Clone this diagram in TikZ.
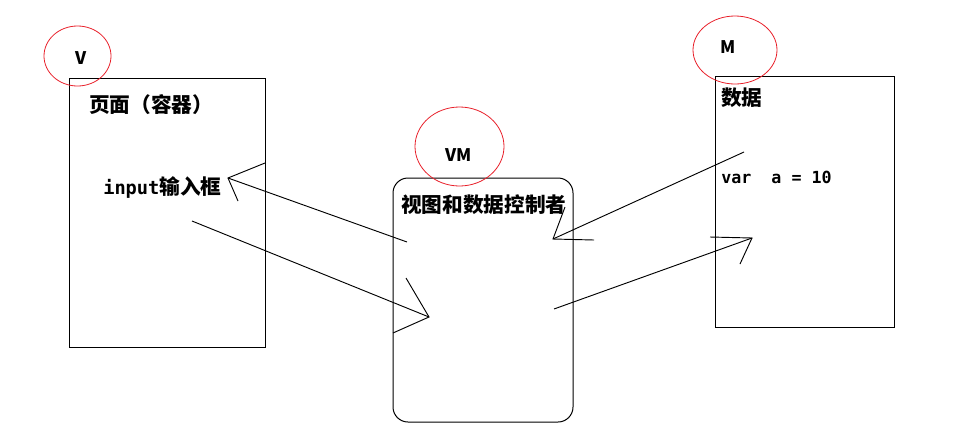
\documentclass[tikz,border=0pt]{standalone}
\usepackage{fontspec}
\setmainfont{Noto Sans CJK SC}
\setmonofont{DejaVu Sans Mono}
\usetikzlibrary{positioning,fit,shapes.geometric}
\definecolor{tagred}{HTML}{E8202A}
\newdimen\px \px=0.75pt

\begin{document}
\begin{tikzpicture}[
  x=0.75pt, y=-0.75pt,
  panel/.style={draw,inner sep=0pt,line width=0.75pt},
  tag/.style={draw=tagred,ellipse,inner sep=0pt,line width=0.6pt},
  cn/.style={font=\bfseries\fontsize{15.5pt}{17pt}\selectfont,inner sep=0pt,anchor=west},
  en/.style={font=\ttfamily\bfseries\fontsize{12.5pt}{14pt}\selectfont,inner sep=0pt,anchor=west},
  tagtext/.style={font=\bfseries\fontsize{13pt}{15pt}\selectfont,inner sep=0pt},
  link/.style={line width=0.7pt},
]
\useasboundingbox (0,0) rectangle (978,447);

% the three parts
\node[panel,fit={(69,78) (265,347)}] (view) {};
\node[panel,rounded corners=15\px,fit={(393,178) (573,422)}] (vm) {};
\node[panel,fit={(715,76) (894,327)}] (model) {};

% red tags
\node[tag,minimum width=67\px,minimum height=60\px] (vtag) at (77.5,56) {};
\node[tag,minimum width=89\px,minimum height=79\px] (vmtag) at (459.5,146.5) {};
\node[tag,minimum width=84\px,minimum height=68\px] (mtag) at (735,50) {};
\node[tagtext] (vname) at (81,58) {V};
\node[tagtext] (vmname) at (458.5,155) {VM};
\node[tagtext] (mname) at (728,47.5) {M};

% texts in the boxes
\node[cn] (page) at (89,105) {页面（容器）};
\node[cn] (input) at (103,188) {{\ttfamily\fontsize{14pt}{16pt}\selectfont input}输入框};
\node[cn] (ctrl) at (401,205) {视图和数据控制者};
\node[cn] (data) at (721,98) {数据};
\node[en] (var) at (721,177) {var\ \ a = 10};

% hand drawn arrows
\coordinate (toview) at (407,242);
\coordinate (toviewtip) at (228,178);
\coordinate (toviewl) at (265,163);
\coordinate (toviewr) at (238,201);
\draw[link] (toview) -- (toviewtip);
\draw[link] (toviewl) -- (toviewtip) -- (toviewr);

\coordinate (fromview) at (192,221);
\coordinate (fromviewtip) at (429,317);
\coordinate (fromviewl) at (406,278);
\coordinate (fromviewr) at (393,333);
\draw[link] (fromview) -- (fromviewtip);
\draw[link] (fromviewl) -- (fromviewtip) -- (fromviewr);

\coordinate (frommodel) at (744,152);
\coordinate (frommodeltip) at (553,239);
\coordinate (frommodell) at (565,207);
\coordinate (frommodelr) at (594,240);
\draw[link] (frommodel) -- (frommodeltip);
\draw[link] (frommodell) -- (frommodeltip) -- (frommodelr);

\coordinate (tomodel) at (554,309);
\coordinate (tomodeltip) at (752,238);
\coordinate (tomodell) at (710,237);
\coordinate (tomodelr) at (740,264);
\draw[link] (tomodel) -- (tomodeltip);
\draw[link] (tomodell) -- (tomodeltip) -- (tomodelr);
\end{tikzpicture}
\end{document}
